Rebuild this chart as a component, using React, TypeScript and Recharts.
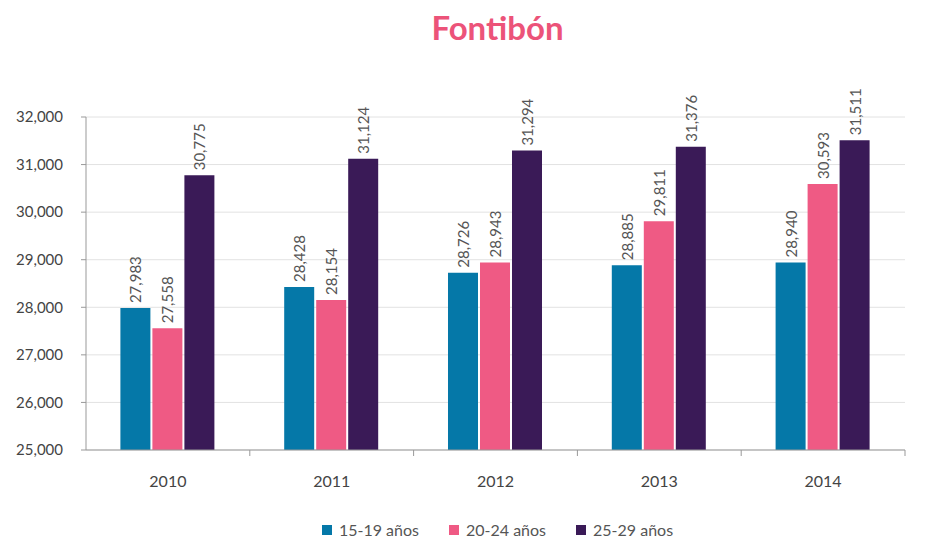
import React from 'react';
import {
  BarChart,
  Bar,
  XAxis,
  YAxis,
  CartesianGrid,
  Legend,
  LabelList,
} from 'recharts';

const years = ['2010', '2011', '2012', '2013', '2014'];
const age15to19 = [27983, 28428, 28726, 28885, 28940];
const age20to24 = [27558, 28154, 28943, 29811, 30593];
const age25to29 = [30775, 31124, 31294, 31376, 31511];
const yTicks = [25000, 26000, 27000, 28000, 29000, 30000, 31000, 32000];

const series = [
  { key: 'a', name: '15-19 años', color: '#0578a8' },
  { key: 'b', name: '20-24 años', color: '#ef5a84' },
  { key: 'c', name: '25-29 años', color: '#3a1a57' },
];

const data = years.map((year, i) => ({
  year,
  a: age15to19[i],
  b: age20to24[i],
  c: age25to29[i],
}));

const FONT = 'Lato, "Open Sans", sans-serif';
const fmt = (v: number) => v.toLocaleString('en-US');

// value label written bottom-to-top above each bar
function UpLabel(props: any) {
  const { x, y, width, value } = props;
  const cx = x + width / 2;
  const ty = y - 5;
  return (
    <text
      x={cx}
      y={ty}
      transform={`rotate(-90, ${cx}, ${ty})`}
      textAnchor="start"
      dominantBaseline="central"
      fontSize={15}
      fill="#555"
      fontFamily={FONT}
    >
      {fmt(value)}
    </text>
  );
}

// category tick with a small mark at the right edge of each band
function YearTick(props: any) {
  const { x, y, payload } = props;
  const half = (payload && payload.offset) || 82;
  return (
    <g>
      <line x1={x + half} x2={x + half} y1={y - 8} y2={y - 2} stroke="#999" />
      <text
        x={x}
        y={y + 29}
        textAnchor="middle"
        fontSize={16}
        fill="#444"
        fontFamily={FONT}
      >
        {payload.value}
      </text>
    </g>
  );
}

function LegendRow() {
  return (
    <div
      style={{
        display: 'flex',
        justifyContent: 'center',
        gap: 30,
        paddingLeft: 90,
        fontFamily: FONT,
        fontSize: 16,
        color: '#555',
      }}
    >
      {series.map((s) => (
        <div key={s.key} style={{ display: 'flex', alignItems: 'center', gap: 7 }}>
          <span style={{ width: 10, height: 10, background: s.color, display: 'inline-block' }} />
          <span>{s.name}</span>
        </div>
      ))}
    </div>
  );
}

export default function App() {
  return (
    <div
      style={{
        position: 'fixed',
        left: 0,
        top: 0,
        width: 933,
        height: 539,
        background: '#fff',
      }}
    >
      <div
        style={{
          position: 'absolute',
          top: 7,
          left: 0,
          width: 995,
          textAlign: 'center',
          color: '#ec5379',
          fontFamily: FONT,
          fontWeight: 700,
          fontSize: 33,
        }}
      >
        Fontibón
      </div>
      <BarChart
        width={933}
        height={539}
        data={data}
        margin={{ top: 117, right: 28, bottom: 0, left: 0 }}
        barCategoryGap="21%"
        barGap={2}
      >
        <CartesianGrid vertical={false} stroke="#e2e2e2" />
        <XAxis
          dataKey="year"
          height={70}
          axisLine={{ stroke: '#999' }}
          tickLine={false}
          tick={<YearTick />}
          interval={0}
        />
        <YAxis
          width={86}
          domain={[25000, 32000]}
          ticks={yTicks}
          tickFormatter={fmt}
          axisLine={{ stroke: '#999' }}
          tickLine={{ stroke: '#999' }}
          tickSize={5}
          tickMargin={18}
          tick={{ fontSize: 15, fill: '#444', fontFamily: FONT }}
        />
        <Legend verticalAlign="bottom" content={<LegendRow />} />
        {series.map((s) => (
          <Bar key={s.key} dataKey={s.key} name={s.name} fill={s.color} isAnimationActive={false}>
            <LabelList dataKey={s.key} content={<UpLabel />} />
          </Bar>
        ))}
      </BarChart>
    </div>
  );
}
